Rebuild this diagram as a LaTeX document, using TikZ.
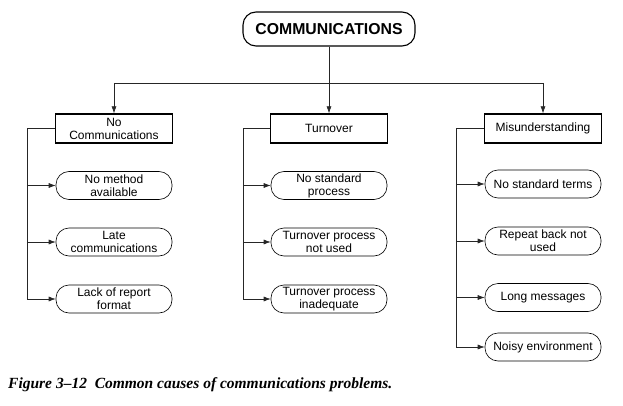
\documentclass[tikz,border=0pt]{standalone}
\usepackage{fontspec}
\setsansfont{Liberation Sans}
\newfontfamily\capfont{Liberation Serif}
\usetikzlibrary{arrows.meta}

\begin{document}
\begin{tikzpicture}[x=1pt, y=-1pt,
    every node/.style={font=\sffamily\fontsize{12}{13}\selectfont, align=center, inner sep=1pt},
    topbox/.style={draw, line width=1.1pt, rounded corners=13pt, minimum width=172pt, minimum height=34pt,
                   font=\sffamily\bfseries\fontsize{15.8}{17}\selectfont},
    headbox/.style={draw, line width=1.3pt, minimum width=117pt, minimum height=29pt},
    causebox/.style={draw, line width=0.6pt, rounded corners=13pt, minimum width=116pt, minimum height=28pt},
    link/.style={line width=0.6pt, draw=black!85},
    tip/.style={link, -{Latex[length=7pt, width=5pt]}}]
  \useasboundingbox (0,0) rectangle (623,406);

  % --- top ---
  \node[topbox] (comm) at (329,29) {COMMUNICATIONS};
  \coordinate (bus) at (329,83);
  \coordinate (busl) at (114,83);
  \coordinate (busr) at (543,83);
  \draw[link] (comm.south) -- (bus);
  \draw[link] (busl) -- (busr);

  % --- column 1 : no communications ---
  \node[headbox] (nocomm) at (114,128.5) {No\\Communications};
  \node[causebox] (nomethod) at (114,185.5) {No method\\available};
  \node[causebox] (late) at (114,242) {Late\\communications};
  \node[causebox] (lack) at (114,299) {Lack of report\\format};
  \draw[tip] (busl) -- (nocomm.north);
  \draw[link] (nocomm.west) -- ++(-28,0) coordinate (lt);
  \draw[tip] (lt) |- (lack.west);
  \foreach \n in {nomethod, late}
    \draw[tip] (lt |- \n.west) -- (\n.west);

  % --- column 2 : turnover ---
  \node[headbox] (turn) at (329,128.5) {Turnover};
  \node[causebox] (nostd) at (329,185.5) {No standard\\process};
  \node[causebox] (notused) at (329,242) {Turnover process\\not used};
  \node[causebox] (inadeq) at (329,299) {Turnover process\\inadequate};
  \draw[tip] (bus) -- (turn.north);
  \draw[link] (turn.west) -- ++(-27,0) coordinate (mt);
  \draw[tip] (mt) |- (inadeq.west);
  \foreach \n in {nostd, notused}
    \draw[tip] (mt |- \n.west) -- (\n.west);

  % --- column 3 : misunderstanding ---
  \node[headbox] (mis) at (543,128.5) {Misunderstanding};
  \node[causebox] (terms) at (543,184) {No standard terms};
  \node[causebox] (repeat) at (543,241) {Repeat back not\\used};
  \node[causebox] (long) at (543,297.5) {Long messages};
  \node[causebox] (noisy) at (543,347) {Noisy environment};
  \draw[tip] (busr) -- (mis.north);
  \draw[link] (mis.west) -- ++(-28,0) coordinate (rt);
  \draw[tip] (rt) |- (noisy.west);
  \foreach \n in {terms, repeat, long}
    \draw[tip] (rt |- \n.west) -- (\n.west);

  % --- caption ---
  \node[anchor=base west, inner sep=0pt, font=\capfont\bfseries\itshape\fontsize{15.5}{17}\selectfont]
    (cap) at (8,388) {Figure 3\textendash 12\ \ Common causes of communications problems.};
\end{tikzpicture}
\end{document}
